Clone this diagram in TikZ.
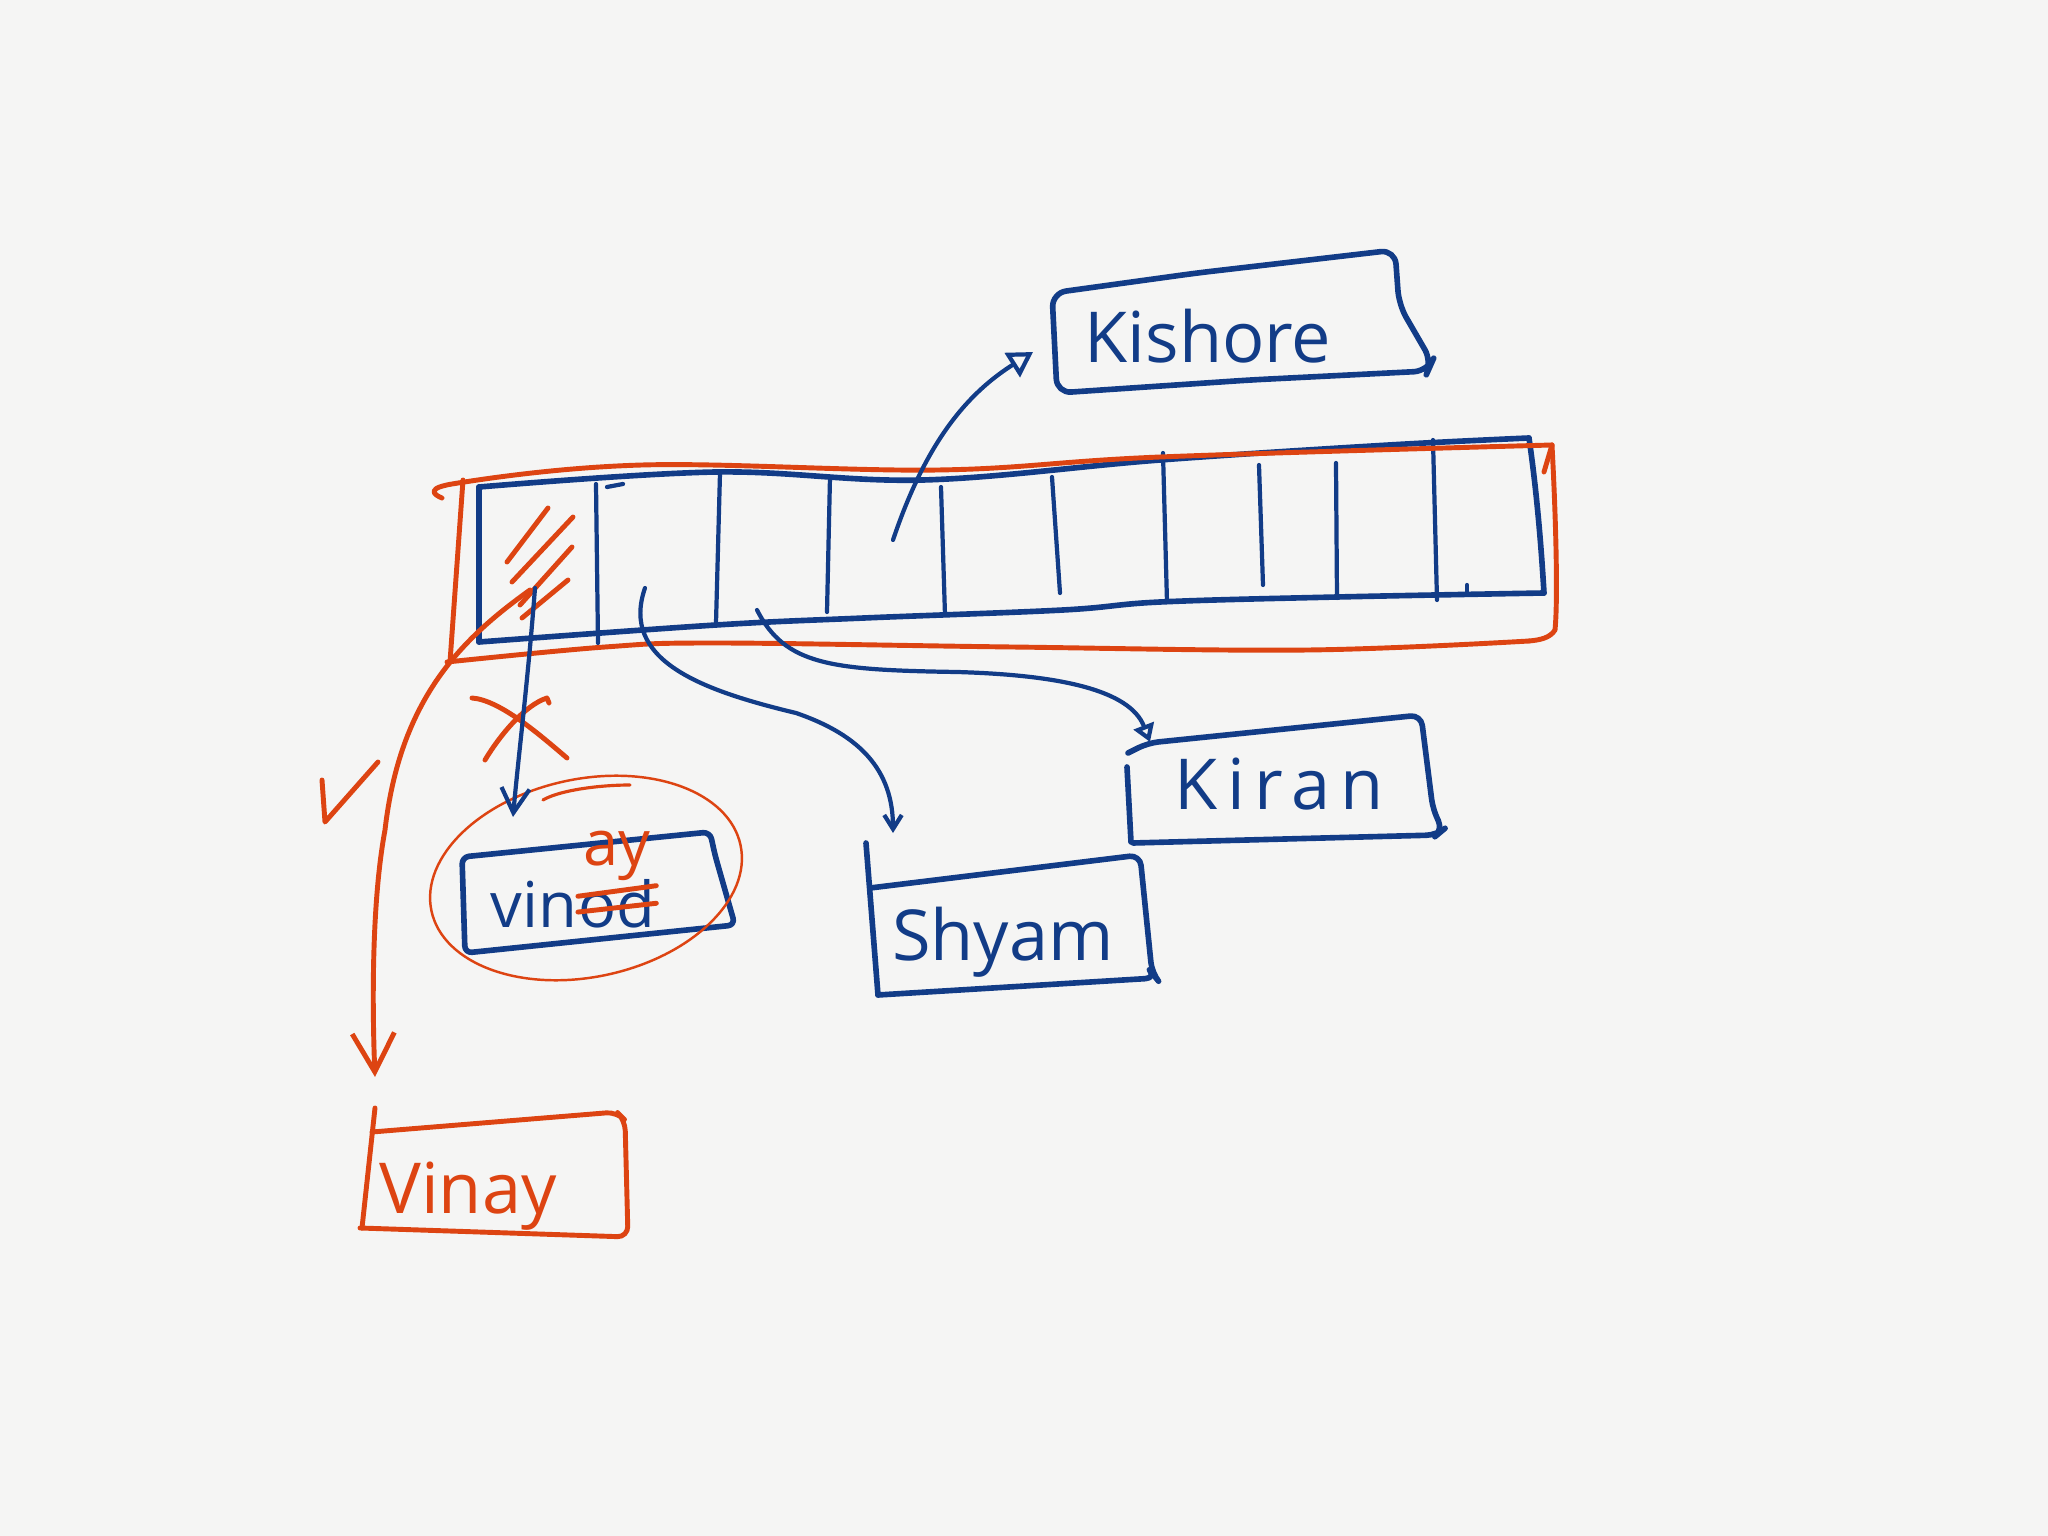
\documentclass[tikz,border=0pt]{standalone}
\usepackage{fontspec}
\setmainfont{Open Sans}
\usetikzlibrary{arrows.meta,positioning}

\definecolor{penblue}{RGB}{18,60,135}
\definecolor{penred}{RGB}{221,68,18}
\definecolor{paper}{RGB}{245,245,244}

\tikzset{
  bluepen/.style={penblue, line width=1.6pt, line cap=round, line join=round},
  redpen/.style={penred, line width=1.4pt, line cap=round, line join=round},
  thinpen/.style={line width=1.2pt},
  hand/.style={font=\fontsize{20}{24}\selectfont, inner sep=0pt},
  smallhand/.style={font=\fontsize{18}{22}\selectfont, inner sep=0pt},
}

\begin{document}
\begin{tikzpicture}[x=1cm, y=-1cm]

  \fill[paper] (0,0) rectangle (20.48,15.36);
  \useasboundingbox (0,0) rectangle (20.48,15.36);

  % Array
  \draw[bluepen] plot[smooth, tension=0.6] coordinates {(4.79,4.87) (7.16,4.72) (9.23,4.80) (11.60,4.60) (13.89,4.45) (15.29,4.38)};
  \draw[bluepen] plot[smooth, tension=0.6] coordinates {(4.79,6.42) (7.16,6.25) (8.64,6.18) (10.63,6.10) (11.60,6.02) (13.37,5.97) (15.44,5.93)};
  \draw[bluepen] (4.79,4.87) -- (4.79,6.42);
  \draw[bluepen] (15.29,4.38) .. controls (15.38,5.00) and (15.42,5.60) .. (15.44,5.93);
  \foreach \xa/\ya/\xb/\yb in {5.96/4.84/5.98/6.43, 7.20/4.73/7.16/6.23, 8.30/4.77/8.27/6.12,
      9.41/4.87/9.45/6.15, 10.52/4.77/10.60/5.93, 11.63/4.53/11.67/6.02,
      12.59/4.65/12.63/5.85, 13.36/4.63/13.37/5.98, 14.33/4.40/14.37/6.00}
    \draw[bluepen, thinpen] (\xa,\ya) -- (\xb,\yb);
  \draw[bluepen, thinpen] (6.07,4.87) -- (6.23,4.84);
  \draw[bluepen, thinpen] (14.67,5.85) -- (14.67,5.93);

  % Red frame and hatching
  \draw[redpen] plot[smooth, tension=0.6] coordinates {(4.42,4.98) (4.52,4.84) (6.42,4.65) (9.38,4.70) (11.60,4.57) (15.52,4.45)};
  \draw[redpen] (15.52,4.45) .. controls (15.56,5.20) and (15.58,6.00) .. (15.55,6.30)
    .. controls (15.50,6.38) and (15.40,6.40) .. (15.29,6.41);
  \draw[redpen] plot[smooth, tension=0.6] coordinates {(15.29,6.41) (13.08,6.50) (10.12,6.47) (7.16,6.43) (6.05,6.47) (4.47,6.62)};
  \draw[redpen] (4.63,4.80) -- (4.50,6.62);
  \draw[redpen] (15.44,4.72) -- (15.52,4.45);
  \draw[redpen] (5.48,5.08) -- (5.07,5.62);
  \draw[redpen] (5.73,5.17) -- (5.12,5.82);
  \draw[redpen] (5.72,5.47) -- (5.20,6.05);
  \draw[redpen] (5.68,5.80) -- (5.22,6.18);

  % Boxes
  \draw[bluepen, rounded corners=4pt] (10.52,2.93) -- (11.97,2.73) -- (13.95,2.50) -- (13.99,3.05)
    -- (14.32,3.62) -- (14.28,3.71) -- (12.50,3.80) -- (10.57,3.93) -- cycle;
  \draw[bluepen, rounded corners=3pt] (11.28,7.53) -- (11.48,7.43) -- (14.21,7.15) -- (14.33,8.10)
    -- (14.43,8.30) -- (14.37,8.35) -- (11.33,8.43);
  \draw[bluepen] (11.27,7.67) -- (11.31,8.42);
  \draw[bluepen, rounded corners=3pt] (8.70,8.88) -- (11.40,8.55) -- (11.52,9.73) -- (11.56,9.78) -- (8.78,9.95);
  \draw[bluepen] (8.66,8.43) -- (8.78,9.95);
  \draw[bluepen, rounded corners=2pt] (4.62,8.57) -- (7.10,8.32) -- (7.15,8.55) -- (7.35,9.25) -- (4.65,9.53) -- cycle;
  \draw[redpen, rounded corners=3pt] (3.72,11.32) -- (6.17,11.12) -- (6.25,11.20) -- (6.28,12.37) -- (3.60,12.28);
  \draw[redpen] (3.75,11.08) -- (3.62,12.28);

  % Names
  \node[hand, penblue, anchor=base] (kishore) at (12.08,3.63) {Kishore};
  \node[hand, penblue, anchor=base] (kiran) at (12.79,8.10) {\addfontfeatures{LetterSpace=14}Kiran};
  \node[hand, penblue, anchor=base] (shyam) at (10.03,9.60) {Shyam};
  \node[smallhand, penblue, anchor=base west] (vin) at (4.90,9.27) {vin};
  \node[smallhand, penblue, anchor=base west] (od) at (vin.base east) {od};
  \node[smallhand, penred, above=-1pt of od] (ay) {ay};
  \node[hand, penred, anchor=base] (vinay) at (4.68,12.13) {Vinay};
  \draw[redpen] ([yshift=2pt]od.west) -- ([yshift=5pt]od.east);
  \draw[redpen] ([yshift=-2.5pt]od.west) -- ([yshift=0pt]od.east);

  % Ellipse, cross and tick
  \draw[redpen, line width=0.7pt, rotate around={12:(5.86,8.78)}] (5.86,8.78) ellipse [x radius=1.58cm, y radius=0.99cm];
  \draw[redpen, line width=0.9pt] (5.43,8.00) .. controls (5.60,7.90) and (6.00,7.85) .. (6.30,7.85);
  \draw[redpen] (4.72,6.98) .. controls (5.00,7.00) and (5.40,7.35) .. (5.67,7.58);
  \draw[redpen] (4.85,7.60) .. controls (5.00,7.35) and (5.25,7.05) .. (5.47,6.98) -- (5.49,7.03);
  \draw[redpen] (3.22,7.80) -- (3.25,8.22) -- (3.78,7.62);

  % Arrows
  \coordinate (cell1) at (5.35,5.88);
  \coordinate (cell1b) at (5.30,5.90);
  \coordinate (cell2) at (6.45,5.88);
  \coordinate (cell3) at (7.57,6.10);
  \coordinate (cell5) at (8.93,5.40);
  \coordinate (vinodtop) at (5.13,8.17);
  \coordinate (vinaytop) at (3.75,10.77);
  \coordinate (shyamtop) at (8.93,8.33);
  \coordinate (kirantop) at (11.50,7.42);
  \coordinate (kishoreleft) at (10.33,3.52);

  \draw[bluepen, thinpen, -{Straight Barb[length=7pt,width=8pt]}] (cell1) .. controls (5.28,6.80) and (5.18,7.60) .. (vinodtop);
  \draw[redpen, -{Straight Barb[length=11pt,width=12pt]}] (cell1b) .. controls (4.60,6.40) and (4.00,7.00) .. (3.85,8.30)
    .. controls (3.72,9.00) and (3.72,10.00) .. (vinaytop);
  \draw[bluepen, thinpen, -{Straight Barb[length=4pt,width=5pt]}] (cell2) .. controls (6.20,6.60) and (7.00,6.90) .. (7.96,7.13)
    .. controls (8.60,7.35) and (8.93,7.70) .. (shyamtop);
  \draw[bluepen, thinpen, -{Triangle[open,length=5pt,width=6pt]}] (cell3) .. controls (7.85,6.65) and (8.30,6.70) .. (9.57,6.72)
    .. controls (10.60,6.75) and (11.30,6.90) .. (kirantop);
  \draw[bluepen, thinpen, -{Triangle[open,length=7pt,width=8pt]}] (cell5) .. controls (9.25,4.45) and (9.65,3.95) .. (kishoreleft);

\end{tikzpicture}
\end{document}
